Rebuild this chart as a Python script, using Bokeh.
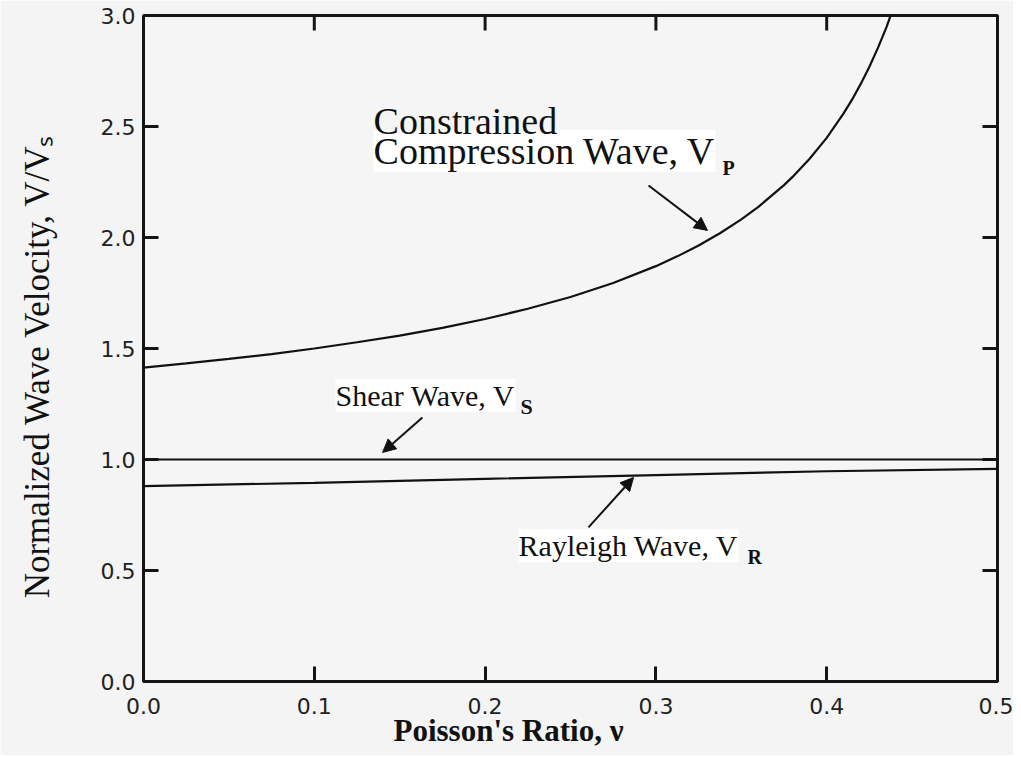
import math
from bokeh.plotting import figure
from bokeh.models import Range1d, FixedTicker, Label, Arrow, NormalHead, CustomJSTickFormatter
from bokeh.embed import file_html
from bokeh.resources import INLINE

# ---- data ----
nu_p = [0.0, 0.025, 0.05, 0.075, 0.10, 0.125, 0.15, 0.175, 0.20, 0.225, 0.25, 0.275, 0.30, 0.3125,
        0.325, 0.3375, 0.35, 0.36, 0.375, 0.38, 0.39, 0.40, 0.41, 0.415, 0.42, 0.425, 0.43, 0.435, 0.44]
vp = [1.414, 1.433, 1.453, 1.475, 1.500, 1.528, 1.558, 1.593, 1.633, 1.679, 1.732, 1.795, 1.871, 1.915,
      1.964, 2.019, 2.082, 2.138, 2.236, 2.273, 2.355, 2.449, 2.560, 2.623, 2.693, 2.769, 2.854, 2.948, 3.055]

nu_s = [0.0, 0.5]
vs = [1.0, 1.0]

nu_r = [0.0, 0.1, 0.2, 0.3, 0.4, 0.5]
vr = [0.880, 0.895, 0.913, 0.930, 0.947, 0.958]

x_ticks = [0.0, 0.1, 0.2, 0.3, 0.4, 0.5]
y_ticks = [0.0, 0.5, 1.0, 1.5, 2.0, 2.5, 3.0]

x_title = "Poisson's Ratio, ν"
y_title = "Normalized Wave Velocity, V/Vₛ"

SERIF = "Liberation Serif"
SANS = "DejaVu Sans"
INK = "#151515"

p = figure(width=1013, height=755, x_range=Range1d(0, 0.5), y_range=Range1d(0, 3),
           output_backend="svg", toolbar_location=None,
           min_border_left=143, min_border_right=16, min_border_top=15, min_border_bottom=74)

p.background_fill_color = "#f5f5f5"
p.border_fill_color = "#f4f4f4"
p.outline_line_color = INK
p.outline_line_width = 3
p.grid.visible = False

fmt = CustomJSTickFormatter(code="return tick.toFixed(1);")

for ax in (p.xaxis[0], p.yaxis[0]):
    ax.axis_line_color = None
    ax.major_tick_in = 15
    ax.major_tick_out = 0
    ax.major_tick_line_width = 3
    ax.major_tick_line_color = INK
    ax.minor_tick_line_color = None
    ax.major_label_text_font = SANS
    ax.major_label_text_font_size = "22px"
    ax.major_label_text_color = "#222222"
    ax.formatter = fmt
    ax.axis_label_text_font = SERIF
    ax.axis_label_text_color = "#111111"
p.xaxis[0].ticker = FixedTicker(ticks=x_ticks)
p.yaxis[0].ticker = FixedTicker(ticks=y_ticks)
p.xaxis[0].major_label_standoff = 16
p.yaxis[0].major_label_standoff = 8

# axis titles (em spaces shift the centred text toward the reference position)
p.xaxis[0].axis_label = x_title + "\u2003" * 4
p.xaxis[0].axis_label_text_font_size = "31px"
p.xaxis[0].axis_label_text_font_style = "bold"
p.xaxis[0].axis_label_standoff = -4

p.yaxis[0].axis_label = y_title + "\u2003"
p.yaxis[0].axis_label_text_font_size = "35px"
p.yaxis[0].axis_label_text_font_style = "normal"
p.yaxis[0].axis_label_standoff = 41

# inward ticks on top and right edges
p.ray(x=x_ticks[1:-1], y=y_ticks[-1], length=15, length_units="screen", angle=-math.pi / 2,
      line_color=INK, line_width=3)
p.ray(x=x_ticks[-1], y=y_ticks[1:-1], length=15, length_units="screen", angle=math.pi,
      line_color=INK, line_width=3)

# ---- curves ----
p.line(nu_p, vp, line_color="#111111", line_width=2.2)
p.line(nu_s, vs, line_color="#111111", line_width=2.2)
p.line(nu_r, vr, line_color="#111111", line_width=2.2)

# ---- annotations ----
def lab(x, y, t, size="30px", style="normal", bg=None):
    l = Label(x=x, y=y, text=t, text_font=SERIF, text_font_size=size, text_font_style=style,
              text_color="#111111", text_align="left", text_baseline="alphabetic")
    if bg:
        l.background_fill_color = bg
    p.add_layout(l)

lab(0.1347, 2.390, "Compression Wave, V", size="38px", bg="white")
lab(0.1347, 2.525, "Constrained", size="38px")
lab(0.339, 2.312, "P", size="20px", style="bold")

lab(0.1124, 1.288, "Shear Wave, V", bg="white")
lab(0.2207, 1.240, "S", size="22px", style="bold")

lab(0.2196, 0.613, "Rayleigh Wave, V", bg="white")
lab(0.3536, 0.560, "R", size="20px", style="bold")

def arrow(x0, y0, x1, y1):
    p.add_layout(Arrow(x_start=x0, y_start=y0, x_end=x1, y_end=y1, line_width=2, line_color="#111111",
                       end=NormalHead(size=13, fill_color="#111111", line_color="#111111")))

arrow(0.2957, 2.234, 0.3302, 2.032)
arrow(0.1633, 1.189, 0.140, 1.032)
arrow(0.2605, 0.694, 0.2869, 0.919)

open("out.html", "w").write(file_html(p, INLINE))
